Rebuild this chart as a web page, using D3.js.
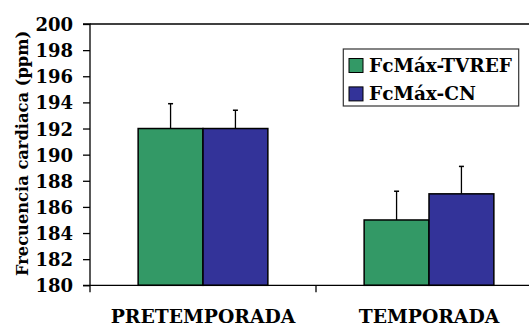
<!DOCTYPE html>
<html>
<head>
<meta charset="utf-8">
<script src="https://cdn.jsdelivr.net/npm/d3@7"></script>
<style>
  body { margin: 0; background: #fff; }
  svg text { font-family: "DejaVu Serif", "Liberation Serif", serif; font-weight: bold; fill: #000; }
</style>
</head>
<body>
<svg id="chart" width="529" height="327"></svg>
<script>
// data
var categories = ["PRETEMPORADA", "TEMPORADA"];
var series_names = ["FcMáx-TVREF", "FcMáx-CN"];
var tvref_vals = [192, 185];
var cn_vals = [192, 187];
var tvref_err = [1.9, 2.2];
var cn_err = [1.4, 2.1];
var y_ticks = [180, 182, 184, 186, 188, 190, 192, 194, 196, 198, 200];

var colours = ["#339966", "#333399"];

var svg = d3.select("#chart");
var margin = {top: 24, left: 90, bottom: 285.3, right: 542};

// x band per season, plot runs past the right edge of the image
var x = d3.scaleBand()
    .domain(categories)
    .range([margin.left, margin.right])
    .padding(0);

var bar_w = x.bandwidth() * 0.287;

var y = d3.scaleLinear()
    .domain([180, 200])
    .range([margin.bottom, margin.top]);

// build rect data from the arrays
var rect_data = [];
categories.forEach(function(c, i){
    rect_data.push({cat: c, s: 0, val: tvref_vals[i], err: tvref_err[i]});
    rect_data.push({cat: c, s: 1, val: cn_vals[i], err: cn_err[i]});
});

// top frame line
svg.append("line")
    .attr("x1", margin.left).attr("x2", margin.right)
    .attr("y1", y(200)).attr("y2", y(200))
    .attr("stroke", "#000").attr("stroke-width", 1.5);

// error bars (drawn first so the bar covers the lower part)
var err_g = svg.append("g").attr("class", "errs");
err_g.selectAll("line.stem").data(rect_data).enter().append("line")
    .attr("class", "stem")
    .attr("x1", d => x(d.cat) + x.bandwidth() / 2 + (d.s - 0.5) * bar_w)
    .attr("x2", d => x(d.cat) + x.bandwidth() / 2 + (d.s - 0.5) * bar_w)
    .attr("y1", d => y(d.val))
    .attr("y2", d => y(d.val + d.err))
    .attr("stroke", "#000").attr("stroke-width", 1.3);
err_g.selectAll("line.cap").data(rect_data).enter().append("line")
    .attr("class", "cap")
    .attr("x1", d => x(d.cat) + x.bandwidth() / 2 + (d.s - 0.5) * bar_w - 2.5)
    .attr("x2", d => x(d.cat) + x.bandwidth() / 2 + (d.s - 0.5) * bar_w + 2.5)
    .attr("y1", d => y(d.val + d.err))
    .attr("y2", d => y(d.val + d.err))
    .attr("stroke", "#000").attr("stroke-width", 1.5);

// bars
svg.append("g").attr("class", "bars")
    .selectAll("rect").data(rect_data).enter().append("rect")
    .attr("x", d => x(d.cat) + x.bandwidth() / 2 + (d.s - 1) * bar_w)
    .attr("y", d => y(d.val))
    .attr("width", bar_w)
    .attr("height", d => y(180) - y(d.val))
    .attr("fill", d => colours[d.s])
    .attr("stroke", "#000").attr("stroke-width", 1.5);

// y axis
var yAxis = svg.append("g")
    .attr("transform", `translate(${margin.left},0)`)
    .call(d3.axisLeft(y).tickValues(y_ticks).tickSize(7).tickPadding(10).tickFormat(d3.format("d")));
yAxis.attr("font-family", null).attr("font-size", null);
yAxis.selectAll("path, line").attr("stroke", "#000").attr("stroke-width", 1.3);
yAxis.select("path.domain").attr("d", `M-7,${y(200)}H0V${y(180)}H-7`);
yAxis.selectAll("text")
    .style("font-size", "18px")
    .attr("dy", "0.36em");

// x axis: base line, ticks at band edges, labels at band centres
var xAxis = svg.append("g").attr("class", "x_axis");
xAxis.append("line")
    .attr("x1", margin.left).attr("x2", margin.right)
    .attr("y1", y(180)).attr("y2", y(180))
    .attr("stroke", "#000").attr("stroke-width", 1.3);
xAxis.selectAll("line.tick").data(categories.concat(["end"])).enter().append("line")
    .attr("class", "tick")
    .attr("x1", (d, i) => margin.left + i * x.bandwidth())
    .attr("x2", (d, i) => margin.left + i * x.bandwidth())
    .attr("y1", y(180)).attr("y2", y(180) + 7)
    .attr("stroke", "#000").attr("stroke-width", 1.3);
xAxis.selectAll("text").data(categories).enter().append("text")
    .attr("x", d => x(d) + x.bandwidth() / 2)
    .attr("y", 323)
    .attr("text-anchor", "middle")
    .style("font-size", "18.8px")
    .text(d => d);

// y title
svg.append("text")
    .attr("transform", "translate(28,153.5) rotate(-90)")
    .attr("text-anchor", "middle")
    .style("font-size", "16.3px")
    .text("Frecuencia cardiaca (ppm)");

// legend
var legend = svg.append("g").attr("class", "legend");
legend.append("rect")
    .attr("x", 343.3).attr("y", 49)
    .attr("width", 175.4).attr("height", 57)
    .attr("fill", "#fff").attr("stroke", "#333").attr("stroke-width", 1.2);
var rows = legend.selectAll("g.row").data(series_names).enter().append("g")
    .attr("class", "row")
    .attr("transform", (d, i) => `translate(349,${58.5 + i * 28.4})`);
rows.append("rect")
    .attr("width", 14).attr("height", 14)
    .attr("fill", (d, i) => colours[i])
    .attr("stroke", "#000").attr("stroke-width", 1);
rows.append("text")
    .attr("x", 20).attr("y", 13.5)
    .style("font-size", "18.5px")
    .text(d => d);
</script>
</body>
</html>
